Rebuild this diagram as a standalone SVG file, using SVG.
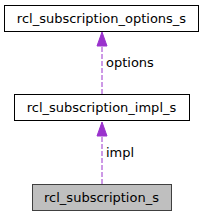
<svg xmlns="http://www.w3.org/2000/svg" width="204" height="216" viewBox="0 0 204 216">
<style>
.box{fill:#ffffff;stroke:#000000;stroke-width:1}
.cur{fill:#bfbfbf;stroke:#404040;stroke-width:1}
.lbl{font-family:"DejaVu Sans",sans-serif;font-size:13px;fill:#000000}
.edge{stroke:#9a32cd;stroke-width:1;stroke-dasharray:5,2;fill:none}
.head{fill:#9a32cd;stroke:#9a32cd;stroke-width:1}
</style>
<rect width="204" height="216" fill="#ffffff"/>
<g id="edges">
<path class="edge" d="M102,94 V46"/>
<polygon class="head" points="102,32 97,46 107,46"/>
<text class="lbl" x="106" y="67">options</text>
<path class="edge" d="M102,184 V136"/>
<polygon class="head" points="102,122 97,136 107,136"/>
<text class="lbl" x="106" y="157">impl</text>
</g>
<g id="node_options">
<rect class="box" x="4.5" y="5.5" width="194" height="26"/>
<text class="lbl" x="101.5" y="23" text-anchor="middle">rcl_subscription_options_s</text>
</g>
<g id="node_impl">
<rect class="box" x="14.5" y="94.5" width="175" height="26"/>
<text class="lbl" x="101.5" y="112" text-anchor="middle">rcl_subscription_impl_s</text>
</g>
<g id="node_sub">
<rect class="cur" x="32.5" y="184.5" width="139" height="26"/>
<text class="lbl" x="101.5" y="202" text-anchor="middle">rcl_subscription_s</text>
</g>
</svg>
